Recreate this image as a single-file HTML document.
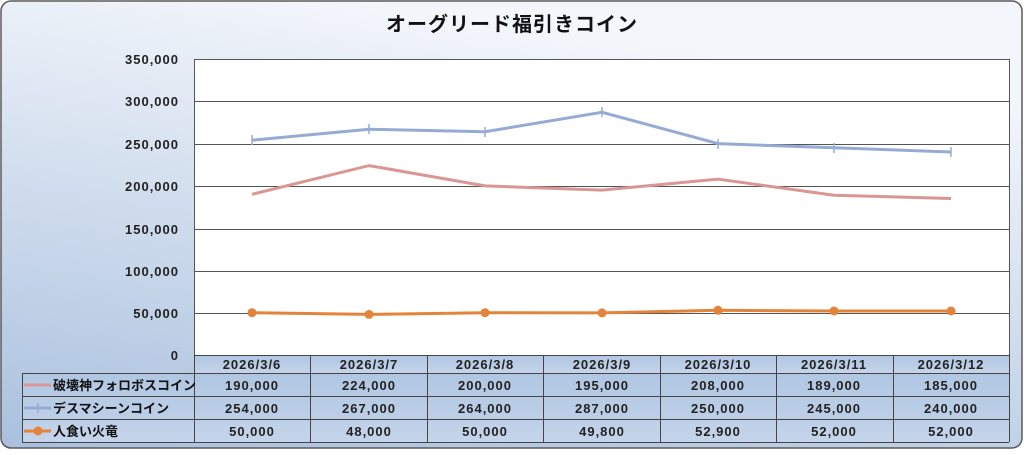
<!DOCTYPE html>
<html><head><meta charset="utf-8"><style>
html,body{margin:0;padding:0;background:#fff;}
body{width:1024px;height:450px;overflow:hidden;}
</style></head><body>
<svg width="1024" height="450" xmlns="http://www.w3.org/2000/svg" font-family="'Liberation Sans','Noto Sans CJK JP',sans-serif">
<defs>
<linearGradient id="bg" x1="0" y1="1" x2="0.35" y2="0">
<stop offset="0" stop-color="#a9c0de"/>
<stop offset="1" stop-color="#f3f6fb"/>
</linearGradient>
<linearGradient id="tb" x1="0" y1="0" x2="0" y2="1">
<stop offset="0" stop-color="#b0c6e2"/>
<stop offset="1" stop-color="#c4d4ea"/>
</linearGradient>
</defs>
<rect x="1" y="1" width="1021" height="447" rx="10" fill="url(#bg)" stroke="#5a5a5a" stroke-width="1.5"/>
<text x="512" y="31" text-anchor="middle" font-size="20" font-weight="bold" fill="#111" letter-spacing="1">オーグリード福引きコイン</text>
<rect x="194" y="59" width="815" height="296" fill="#fff"/>
<g stroke="#555" stroke-width="1">
<line x1="194" y1="59.5" x2="1009" y2="59.5"/>
<line x1="194" y1="101.5" x2="1009" y2="101.5"/>
<line x1="194" y1="144.5" x2="1009" y2="144.5"/>
<line x1="194" y1="186.5" x2="1009" y2="186.5"/>
<line x1="194" y1="229.5" x2="1009" y2="229.5"/>
<line x1="194" y1="271.5" x2="1009" y2="271.5"/>
<line x1="194" y1="313.5" x2="1009" y2="313.5"/>
<line x1="194.5" y1="59" x2="194.5" y2="355"/>
<line x1="1009.5" y1="59" x2="1009.5" y2="355"/>
</g>
<g font-size="13" font-weight="bold" fill="#222" text-anchor="end" letter-spacing="1">
<text x="179" y="64">350,000</text>
<text x="179" y="106">300,000</text>
<text x="179" y="149">250,000</text>
<text x="179" y="191">200,000</text>
<text x="179" y="234">150,000</text>
<text x="179" y="276">100,000</text>
<text x="179" y="318">50,000</text>
<text x="179" y="360">0</text>
</g>
<polyline fill="none" stroke="#d99694" stroke-width="3" points="252,194.3 369,165.6 485,185.9 602,190.1 718,179.1 834,195.2 951,198.5"/>
<polyline fill="none" stroke="#95abd4" stroke-width="3" points="252,140.2 369,129.2 485,131.7 602,112.3 718,143.6 834,147.8 951,152"/>
<g stroke="#95abd4" stroke-width="1.5">
<line x1="252" y1="135" x2="252" y2="145"/><line x1="369" y1="124" x2="369" y2="134"/><line x1="485" y1="127" x2="485" y2="137"/><line x1="602" y1="107" x2="602" y2="117"/><line x1="718" y1="139" x2="718" y2="149"/><line x1="834" y1="143" x2="834" y2="153"/><line x1="951" y1="147" x2="951" y2="157"/>
</g>
<polyline fill="none" stroke="#e3843a" stroke-width="3" points="252,312.7 369,314.4 485,312.7 602,312.9 718,310.3 834,311 951,311"/>
<g fill="#e3843a">
<circle cx="252" cy="312.7" r="4.5"/><circle cx="369" cy="314.4" r="4.5"/><circle cx="485" cy="312.7" r="4.5"/><circle cx="602" cy="312.9" r="4.5"/><circle cx="718" cy="310.3" r="4.5"/><circle cx="834" cy="311" r="4.5"/><circle cx="951" cy="311" r="4.5"/>
</g>
<rect x="194" y="355" width="815" height="18" fill="url(#tb)"/>
<rect x="22" y="373" width="987" height="69" fill="url(#tb)"/>
<g stroke="#444" stroke-width="1" fill="none">
<line x1="194" y1="355.5" x2="1009" y2="355.5"/>
<line x1="22" y1="373.5" x2="1009" y2="373.5"/>
<line x1="22" y1="396.5" x2="1009" y2="396.5"/>
<line x1="22" y1="419.5" x2="1009" y2="419.5"/>
<line x1="22" y1="442.5" x2="1009" y2="442.5"/>
<line x1="22.5" y1="373" x2="22.5" y2="442"/>
<line x1="194.5" y1="355" x2="194.5" y2="442"/>
<line x1="310.5" y1="355" x2="310.5" y2="442"/>
<line x1="427.5" y1="355" x2="427.5" y2="442"/>
<line x1="543.5" y1="355" x2="543.5" y2="442"/>
<line x1="660.5" y1="355" x2="660.5" y2="442"/>
<line x1="776.5" y1="355" x2="776.5" y2="442"/>
<line x1="893.5" y1="355" x2="893.5" y2="442"/>
<line x1="1009.5" y1="355" x2="1009.5" y2="442"/>
</g>
<line x1="24" y1="385" x2="51" y2="385" stroke="#d99694" stroke-width="3"/>
<line x1="24" y1="408" x2="51" y2="408" stroke="#95abd4" stroke-width="3"/>
<line x1="38" y1="403" x2="38" y2="413" stroke="#95abd4" stroke-width="1.5"/>
<line x1="24" y1="431" x2="51" y2="431" stroke="#e3843a" stroke-width="3"/>
<circle cx="38" cy="431" r="4.5" fill="#e3843a"/>
<g font-size="13" font-weight="bold" fill="#111">
<text x="53" y="390">破壊神フォロボスコイン</text>
<text x="53" y="413">デスマシーンコイン</text>
<text x="53" y="436">人食い火竜</text>
</g>
<g font-size="13" font-weight="bold" fill="#222" text-anchor="middle" letter-spacing="1">
<text x="252" y="369">2026/3/6</text><text x="369" y="369">2026/3/7</text><text x="485" y="369">2026/3/8</text><text x="602" y="369">2026/3/9</text><text x="718" y="369">2026/3/10</text><text x="834" y="369">2026/3/11</text><text x="951" y="369">2026/3/12</text>
<text x="252" y="390">190,000</text><text x="369" y="390">224,000</text><text x="485" y="390">200,000</text><text x="602" y="390">195,000</text><text x="718" y="390">208,000</text><text x="834" y="390">189,000</text><text x="951" y="390">185,000</text>
<text x="252" y="413">254,000</text><text x="369" y="413">267,000</text><text x="485" y="413">264,000</text><text x="602" y="413">287,000</text><text x="718" y="413">250,000</text><text x="834" y="413">245,000</text><text x="951" y="413">240,000</text>
<text x="252" y="436">50,000</text><text x="369" y="436">48,000</text><text x="485" y="436">50,000</text><text x="602" y="436">49,800</text><text x="718" y="436">52,900</text><text x="834" y="436">52,000</text><text x="951" y="436">52,000</text>
</g>
</svg>
</body></html>
